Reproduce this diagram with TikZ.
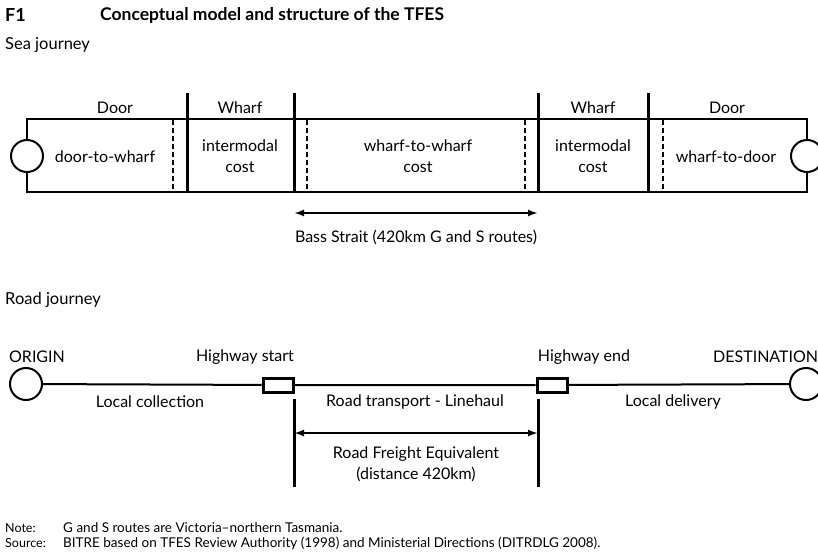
\documentclass[tikz,border=0pt]{standalone}
\usepackage{fontspec}
\setmainfont{Lato}
\usetikzlibrary{positioning, arrows.meta, calc}

\begin{document}
\begin{tikzpicture}[
                x=1pt, y=-1pt,
                txt/.style={font=\fontsize{16}{21}\selectfont, inner sep=0pt, align=center},
                headtxt/.style={font=\fontsize{16.5}{19}\selectfont, inner sep=0pt, anchor=west},
                notehead/.style={font=\fontsize{12.5}{14}\selectfont, inner sep=0pt, anchor=west},
                notetxt/.style={font=\fontsize{13.5}{15}\selectfont, inner sep=0pt, anchor=west},
                frame/.style={line width=2pt},
                divider/.style={line width=3pt},
                dashdiv/.style={line width=1.6pt, dash pattern=on 5pt off 3pt},
                term/.style={draw, circle, line width=2pt, fill=white, minimum size=32pt, inner sep=0pt},
                hwbox/.style={draw, rectangle, line width=3pt, fill=white, minimum width=30pt, minimum height=14pt, inner sep=0pt},
                measure/.style={line width=2pt, {Latex[length=10pt,width=7pt]}-{Latex[length=10pt,width=7pt]}}
            ]
            \useasboundingbox (0,0) rectangle (818,552);

            % Titel
            \node[anchor=west, inner sep=0pt, font=\fontsize{18}{20}\selectfont\bfseries] (fig) at (5,15) {F1};
            \node[anchor=west, inner sep=0pt, font=\fontsize{17.5}{20}\selectfont\bfseries] (title) at (100,15) {Conceptual model and structure of the TFES};
            \node[headtxt] (sea) at (5,45) {Sea journey};

            % Sea journey
            \coordinate (seaTL) at (27,119);
            \coordinate (seaBR) at (807,192);
            \draw[frame] (seaTL) rectangle (seaBR);
            \foreach \x/\n in {187/wa, 294/wb, 538/wc, 648/wd} {
                \coordinate (\n top) at (\x,93);
                \coordinate (\n bot) at (\x,192);
                \draw[divider] (\n top) -- (\n bot);
            }
            \foreach \x/\n in {173/da, 307/db, 525/dc, 663/dd} {
                \coordinate (\n top) at (\x,120);
                \coordinate (\n bot) at (\x,191);
                \draw[dashdiv] (\n top) -- (\n bot);
            }
            \node[term] (seaO) at (27,156) {};
            \node[term] (seaD) at (807,156) {};

            \node[txt] (door1) at (115,108) {Door};
            \node[txt] (wharf1) at (240,108) {Wharf};
            \node[txt] (wharf2) at (593,108) {Wharf};
            \node[txt] (door2) at (727,108) {Door};

            \node[txt] (dtw) at (105,157) {door-to-wharf};
            \node[txt] (ic1) at (240,156) {intermodal\\cost};
            \node[txt] (wtw) at (418,156) {wharf-to-wharf\\cost};
            \node[txt] (ic2) at (593,156) {intermodal\\cost};
            \node[txt] (wtd) at (726,157) {wharf-to-door};

            \draw[measure] (294,213) coordinate (bsA) -- (538,213) coordinate (bsB);
            \node[txt] (bass) at (416,237) {Bass Strait (420km G and S routes)};

            % Road journey
            \node[headtxt] (road) at (5,300) {Road journey};

            \node[term] (orig) at (26,384) {};
            \node[term] (dest) at (806,384) {};
            \node[hwbox] (hs) at (278,385) {};
            \node[hwbox] (he) at (552,385) {};
            \draw[frame] (orig) -- (hs) -- (he) -- (dest);

            \node[txt] (origL) at (37,357) {ORIGIN};
            \node[txt] (hsL) at (245,357) {Highway start};
            \node[txt] (heL) at (584,357) {Highway end};
            \node[txt, anchor=west] (destL) at (713,357) {DESTINATION};

            \node[txt] (lc) at (150,402) {Local collection};
            \node[txt] (rt) at (415,402) {Road transport - Linehaul};
            \node[txt] (ld) at (673,402) {Local delivery};

            \coordinate (rfA) at (294,399);
            \coordinate (rfB) at (294,487);
            \coordinate (rfC) at (538,399);
            \coordinate (rfD) at (538,487);
            \draw[divider] (rfA) -- (rfB);
            \draw[divider] (rfC) -- (rfD);
            \draw[measure] (rfA |- 0,433) -- (rfC |- 0,433);
            \node[txt] (rfe) at (416,464) {Road Freight Equivalent\\(distance 420km)};

            % Notes
            \node[notehead] (noteH) at (5,528) {Note:};
            \node[notetxt] (noteT) at (63,528) {G and S routes are Victoria--northern Tasmania.};
            \node[notehead] (srcH) at (5,543) {Source:};
            \node[notetxt] (srcT) at (63,543) {BITRE based on TFES Review Authority (1998) and Ministerial Directions (DITRDLG 2008).};

        \end{tikzpicture}
\end{document}
